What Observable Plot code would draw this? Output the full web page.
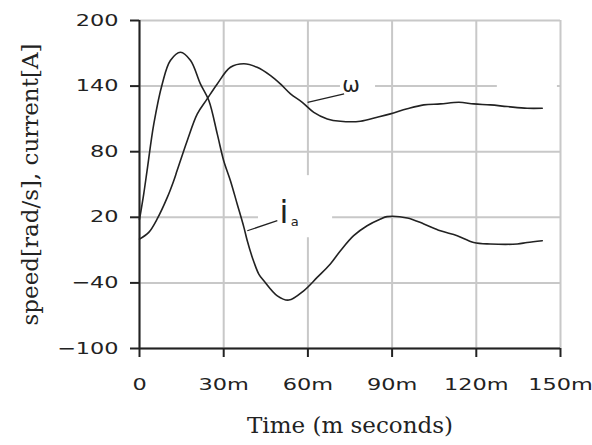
<!DOCTYPE html>
<html><head><meta charset="utf-8">
<script src="https://cdn.jsdelivr.net/npm/d3@7"></script>
<script src="https://cdn.jsdelivr.net/npm/@observablehq/plot@0.6"></script>
<style>
body{margin:0;background:#fff;}
</style></head><body><div id="chart"></div>
<script>
// ---- data ----
const speedTime  = [0, 3.3, 6.3, 9.9, 12.2, 13.4, 17.0, 20.6, 24.1, 27.7, 32.4, 37.2, 41.9, 46.7, 50.2, 53.8, 58.0, 62.1, 66.9, 71.6, 78.7, 84.7, 89.4, 95.4, 101.3, 107.2, 113.8, 119.1, 125.0, 131.0, 138.1, 143.5];
const speedValue = [0, 6.2, 18.5, 38.2, 53.5, 62.7, 90.1, 114.6, 128.3, 142.0, 157.2, 160.4, 157.2, 149.6, 142.0, 132.9, 125.2, 116.0, 110.0, 107.8, 107.8, 111.5, 114.6, 119.2, 122.8, 123.7, 125.2, 123.7, 122.8, 121.3, 119.7, 119.7];
const currentTime  = [0, 1.5, 2.7, 5.1, 8.1, 11.0, 14.6, 18.2, 21.7, 24.7, 27.7, 30.0, 32.4, 34.8, 37.2, 38.4, 40.2, 42.5, 44.3, 49.1, 53.2, 58.5, 63.3, 68.0, 71.6, 76.3, 81.1, 85.9, 88.2, 95.4, 101.3, 107.2, 113.2, 119.1, 125.0, 134.6, 138.1, 143.5];
const currentValue = [18, 41.3, 62.7, 105.4, 142.0, 163.4, 171.0, 163.4, 142.0, 126.8, 96.3, 71.8, 53.5, 32.2, 10.8, -1.4, -16.7, -31.9, -38.0, -51.8, -55.7, -47.2, -35.0, -22.7, -10.6, 3.2, 12.3, 18.5, 20.6, 19.4, 13.9, 7.7, 3.2, -3.0, -4.4, -4.4, -3.0, -1.4];

const xTicks = [0, 30, 60, 90, 120, 150];
const xTickLabels = ["0", "30m", "60m", "90m", "120m", "150m"];
const yTicks = [-100, -40, 20, 80, 140, 200];
const xTitle = "Time (m seconds)";
const yTitle = "speed[rad/s], current[A]";

// curve labels (data units)
const labelText = ["\u03c9", "i", "a"];
const labelT    = [75.4, 51.5, 55.3];
const labelV    = [135, 15.1, 12.3];
const labelSize = [21, 32, 13];
// leader lines
const leaderT1 = [59.9, 38.4], leaderV1 = [125.2, 7.7];
const leaderT2 = [72.9, 49.1], leaderV2 = [132.9, 16.9];
// white label boxes that hide the grid
const boxT1 = [42.4, 71.6, 127.5], boxT2 = [68.8, 84.1, 148.9];
const boxV1 = [1.3, 130.4, 135.9], boxV2 = [58.1, 150.6, 145];

const speed = speedTime.map((t, i) => ({t, v: speedValue[i]}));
const current = currentTime.map((t, i) => ({t, v: currentValue[i]}));
const labels = labelText.map((s, i) => ({s, t: labelT[i], v: labelV[i], size: labelSize[i]}));
const leaders = leaderT1.map((t, i) => ({t1: t, v1: leaderV1[i], t2: leaderT2[i], v2: leaderV2[i]}));
const boxes = boxT1.map((t, i) => ({t1: t, t2: boxT2[i], v1: boxV1[i], v2: boxV2[i]}));

const ink = "#222";
const chart = Plot.plot({
  width: 592, height: 445,
  marginLeft: 139, marginRight: 32, marginTop: 20, marginBottom: 97,
  x: {domain: [0, 150]},
  y: {domain: [-100, 200]},
  style: {background: "#fff", color: ink, fontFamily: "DejaVu Sans"},
  marks: [
    Plot.gridX(xTicks, {stroke: "#c8c8c8", strokeOpacity: 1, strokeWidth: 2}),
    Plot.gridY(yTicks, {stroke: "#c8c8c8", strokeOpacity: 1, strokeWidth: 2}),
    Plot.rect(boxes, {x1: "t1", x2: "t2", y1: "v1", y2: "v2", fill: "#fff"}),
    Plot.ruleX([0], {stroke: ink, strokeWidth: 2}),
    Plot.ruleY([-100], {stroke: ink, strokeWidth: 2}),
    Plot.axisX(xTicks, {tickSize: 9, tickPadding: 21, strokeWidth: 2, label: null, fontSize: 16,
      tickFormat: d => xTickLabels[xTicks.indexOf(d)]}),
    Plot.axisY(yTicks, {tickSize: 9, tickPadding: 12, strokeWidth: 2, label: null, fontSize: 16}),
    Plot.line(speed, {x: "t", y: "v", curve: "catmull-rom", stroke: ink, strokeWidth: 1.6}),
    Plot.line(current, {x: "t", y: "v", curve: "catmull-rom", stroke: ink, strokeWidth: 1.6}),
    Plot.link(leaders, {x1: "t1", y1: "v1", x2: "t2", y2: "v2", stroke: ink, strokeWidth: 1.3}),
    Plot.text(labels, {x: "t", y: "v", text: "s", fontSize: d => d.size, lineAnchor: "bottom",
      fontFamily: "DejaVu Sans", fill: ink}),
    Plot.text([xTitle], {text: d => d, frameAnchor: "bottom", dy: 84, fontSize: 23,
      fontFamily: "DejaVu Serif", fill: ink}),
    Plot.text([yTitle], {text: d => d, frameAnchor: "left", textAnchor: "middle", rotate: -90, dx: -109,
      fontSize: 23, fontFamily: "DejaVu Serif", fill: ink})
  ]
});
document.getElementById("chart").appendChild(chart);
// widen tick-label glyphs like the reference
d3.select(chart).selectAll('g[aria-label="x-axis tick label"] text, g[aria-label="y-axis tick label"] text')
  .attr("transform", function() { return (this.getAttribute("transform") || "") + " scale(1.4,1)"; });
</script></body></html>
